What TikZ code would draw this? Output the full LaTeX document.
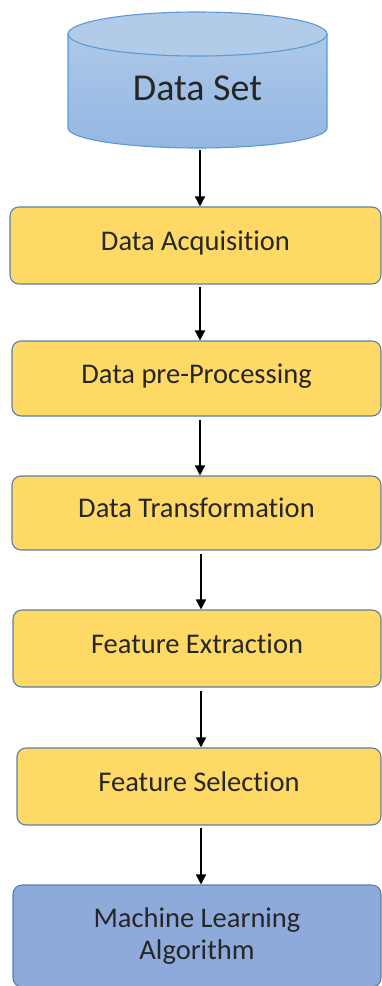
\documentclass[tikz,border=0pt]{standalone}
\usepackage{fontspec}
\setmainfont[RawFeature={-liga}]{Carlito}
\usetikzlibrary{arrows.meta}
\definecolor{boxfill}{HTML}{FFD966}
\definecolor{boxdraw}{HTML}{5B7FA6}
\definecolor{mlfill}{HTML}{8EAADB}
\definecolor{cyltop}{HTML}{ADC8E8}
\definecolor{cylbot}{HTML}{94B7E2}
\definecolor{cyldraw}{HTML}{5B9BD5}
\tikzset{
  stepbox/.style={draw=boxdraw, line width=1.1pt, fill=boxfill, rounded corners=9pt, font=\fontsize{28.5}{32}\selectfont, text=black!85, inner sep=0pt, text depth=10pt},
  mlbox/.style={draw=boxdraw, line width=1.1pt, fill=mlfill, rounded corners=9pt, text=black!85, inner sep=0pt},
  arr/.style={-{Triangle[width=10pt,length=10pt]}, line width=1.5pt, black},
}
\begin{document}
\begin{tikzpicture}[x=1pt,y=-1pt]
\useasboundingbox (0,0) rectangle (382,986);
% cylinder
\shade[top color=cyltop, bottom color=cylbot, draw=cyldraw, line width=1.1pt]
  (68,34) -- (68,128) arc[start angle=180, end angle=360, x radius=129.5pt, y radius=20pt] -- (327,34) -- cycle;
\draw[cyldraw, line width=1.1pt, fill=cyltop!95!white] (197.5,34) ellipse[x radius=129.5pt, y radius=22pt];
\node[minimum width=259pt, minimum height=136pt, inner sep=0pt] (ds) at (197.5,80) {};
\node[font=\fontsize{38}{42}\selectfont, text=black!85] (dst) at (197.5,88) {Data Set};
% boxes
\node[stepbox, minimum width=371pt, minimum height=77pt] (b1) at (195.5,245.5) {Data Acquisition};
\node[stepbox, minimum width=369pt, minimum height=75pt] (b2) at (196.5,378.5) {Data pre-Processing};
\node[stepbox, minimum width=369pt, minimum height=74pt] (b3) at (196.5,513) {Data Transformation};
\node[stepbox, minimum width=368pt, minimum height=77pt] (b4) at (197,648.5) {Feature Extraction};
\node[stepbox, minimum width=364pt, minimum height=77pt] (b5) at (199,786.5) {Feature Selection};
\node[mlbox, minimum width=368pt, minimum height=102pt, align=center, font=\fontsize{28.5}{32}\selectfont] (b6) at (197,936) {Machine Learning\\Algorithm};
% arrows
\draw[arr] ([yshift=-2pt]ds.south -| 200,0) -- (b1.north -| 200,0);
\draw[arr] ([yshift=-2pt]b1.south -| 200,0) -- (b2.north -| 200,0);
\draw[arr] ([yshift=-3pt]b2.south -| 200,0) -- (b3.north -| 200,0);
\draw[arr] ([yshift=-3pt]b3.south -| 201,0) -- (b4.north -| 201,0);
\draw[arr] ([yshift=-3pt]b4.south -| 201,0) -- (b5.north -| 201,0);
\draw[arr] ([yshift=-2pt]b5.south -| 201,0) -- (b6.north -| 201,0);
\end{tikzpicture}
\end{document}
